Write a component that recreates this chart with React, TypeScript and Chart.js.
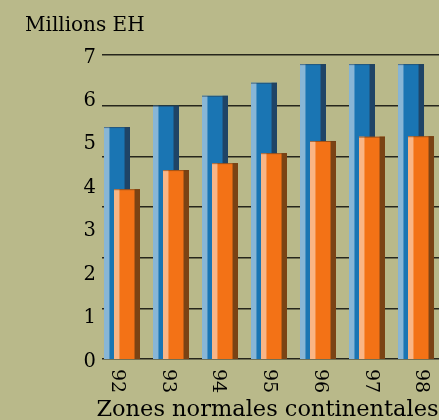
import { useEffect, useRef } from "react";
import { Chart, registerables } from "chart.js";

Chart.register(...registerables);

// ---- data ----
const categories = ["92", "93", "94", "95", "96", "97", "98"];
const seriesBlue = [5.34, 5.83, 6.06, 6.36, 6.79, 6.79, 6.79];
const seriesOrange = [3.91, 4.35, 4.51, 4.74, 5.02, 5.12, 5.13];
const yTickMin = 0;
const yTickMax = 7;
const yTitle = "Millions EH";
const xTitle = "Zones normales continentales";

// ---- styles ----
const BG = "#b9b98a";
const FONT = "'DejaVu Serif', serif";
const faces = [
  { light: "#88b6d6", main: "#1a75b3", dark: "#1f4466", top: "rgba(40,60,80,0.55)" },
  { light: "#f9b585", main: "#f37216", dark: "#7a4314", top: "rgba(110,60,20,0.6)" },
];

const customPlugin = {
  id: "customDraw",
  beforeDraw(chart: any) {
    const ctx = chart.ctx;
    ctx.save();
    ctx.fillStyle = BG;
    ctx.fillRect(0, 0, chart.width, chart.height);
    ctx.restore();
  },
  beforeDatasetsDraw(chart: any) {
    const ctx = chart.ctx;
    [0, 1].forEach((di) => {
      const meta = chart.getDatasetMeta(di);
      if (!meta || meta.hidden) return;
      meta.controller.draw();
      const f = faces[di];
      ctx.save();
      meta.data.forEach((el: any) => {
        const { x, y, base, width } = el.getProps(["x", "y", "base", "width"], true);
        const left = x - width / 2;
        const h = base - y;
        const wl = width * 0.21;
        const wr = width * 0.21;
        ctx.fillStyle = f.light;
        ctx.fillRect(left, y, wl, h);
        ctx.fillStyle = f.dark;
        ctx.fillRect(left + width - wr, y, wr, h);
        ctx.fillStyle = f.top;
        ctx.fillRect(left, y, width, 1);
      });
      ctx.restore();
    });
    return false;
  },
  afterDraw(chart: any) {
    const ctx = chart.ctx;
    ctx.save();
    ctx.fillStyle = "#000";
    ctx.font = `20px ${FONT}`;
    ctx.textAlign = "left";
    ctx.textBaseline = "alphabetic";
    ctx.fillText(yTitle, 25, 31);

    ctx.font = `22.5px ${FONT}`;
    ctx.textAlign = "center";
    ctx.fillText(xTitle, 267.5, 416);

    const xl = chart.scales.xl;
    ctx.font = `19px ${FONT}`;
    categories.forEach((c, i) => {
      const px = xl.getPixelForValue(i);
      ctx.save();
      ctx.translate(px, 369);
      ctx.rotate(Math.PI / 2);
      ctx.textAlign = "left";
      ctx.textBaseline = "middle";
      ctx.fillText(c, 0, 0);
      ctx.restore();
    });
    ctx.restore();
  },
};

export default function App() {
  const ref = useRef<HTMLCanvasElement | null>(null);

  useEffect(() => {
    if (!ref.current) return;
    const chart = new Chart(ref.current, {
      type: "bar",
      data: {
        datasets: [
          {
            label: "A",
            data: seriesBlue.map((v, i) => ({ x: i, y: v })),
            backgroundColor: faces[0].main,
            borderWidth: 0,
            categoryPercentage: 0.408,
            barPercentage: 2.6,
            xAxisID: "x",
            yAxisID: "y",
          },
          {
            label: "B",
            data: seriesOrange.map((v, i) => ({ x: i, y: v })),
            backgroundColor: faces[1].main,
            borderWidth: 0,
            categoryPercentage: 0.408,
            barPercentage: 2.6,
            xAxisID: "x",
            yAxisID: "y",
          },
        ],
      },
      options: {
        animation: false,
        responsive: false,
        layout: { padding: { left: 0, right: 0, top: 55, bottom: 61 } },
        plugins: {
          legend: { display: false },
          tooltip: { enabled: false },
          title: { display: false },
        },
        scales: {
          x: {
            type: "linear",
            display: false,
            offset: false,
            min: -0.408,
            max: 6.51,
            afterBuildTicks: (s: any) => {
              s.ticks = categories.map((_, i) => ({ value: i }));
            },
          },
          xl: {
            type: "linear",
            display: false,
            offset: false,
            min: -0.296,
            max: 6.39,
          },
          y: {
            type: "linear",
            position: "left",
            min: yTickMin,
            max: yTickMax,
            grid: { display: false, drawTicks: false },
            border: { display: false },
            ticks: {
              stepSize: 1,
              color: "#000",
              font: { family: FONT, size: 19.5 },
              padding: 6,
              labelOffset: 2.5,
            },
            afterFit: (s: any) => {
              s.width = 102;
            },
          },
          y2: {
            type: "linear",
            position: "left",
            min: 0,
            max: 6,
            ticks: { display: false, stepSize: 1 },
            grid: { color: "#26261c", lineWidth: 1.4, drawTicks: false },
            border: { display: false },
            afterFit: (s: any) => {
              s.width = 0;
            },
          },
        },
      },
      plugins: [customPlugin],
    } as any);
    return () => chart.destroy();
  }, []);

  return (
    <div
      style={{
        position: "fixed",
        left: 0,
        top: 0,
        width: 439,
        height: 420,
        overflow: "hidden",
        background: BG,
      }}
    >
      <canvas ref={ref} width={441} height={420} style={{ display: "block" }} />
    </div>
  );
}
